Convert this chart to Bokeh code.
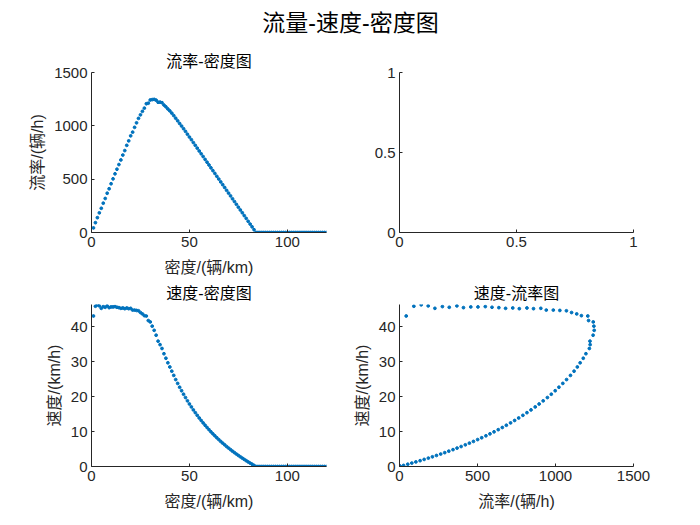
from bokeh.plotting import figure
from bokeh.layouts import gridplot, column
from bokeh.models import Range1d, FixedTicker, Label
from bokeh.embed import file_html
from bokeh.resources import INLINE

# ---------------- data ----------------
density = [
    1, 2, 3, 4, 5, 6, 7, 8, 9, 10, 11, 12, 13, 14, 15, 16, 17, 18, 19, 20,
    21, 22, 23, 24, 25, 26, 27, 28, 29, 30, 31, 32, 33, 34, 35, 36, 37, 38, 39, 40,
    41, 42, 43, 44, 45, 46, 47, 48, 49, 50, 51, 52, 53, 54, 55, 56, 57, 58, 59, 60,
    61, 62, 63, 64, 65, 66, 67, 68, 69, 70, 71, 72, 73, 74, 75, 76, 77, 78, 79, 80,
    81, 82, 83, 84, 85, 86, 87, 88, 89, 90, 91, 92, 93, 94, 95, 96, 97, 98, 99, 100,
    101, 102, 103, 104, 105, 106, 107, 108, 109, 110, 111, 112, 113, 114, 115, 116, 117, 118, 119, 120,
]
speed = [
    43.1, 45.9, 46.3, 46.0, 45.3, 45.8, 45.6, 46.0, 45.5, 45.7,
    45.7, 45.8, 45.6, 45.5, 45.3, 45.4, 45.2, 45.4, 45.2, 45.3,
    44.8, 44.8, 44.7, 44.6, 44.1, 43.7, 43.2, 43.1, 41.8, 41.4,
    40.2, 39.0, 37.6, 35.9, 34.9, 33.8, 32.3, 31.0, 29.7, 28.5,
    27.3, 26.1, 24.9, 23.8, 22.7, 21.7, 20.7, 19.75, 18.8, 17.9,
    17.06, 16.21, 15.42, 14.65, 13.89, 13.18, 12.49, 11.81, 11.17, 10.55,
    9.93, 9.35, 8.79, 8.23, 7.71, 7.18, 6.69, 6.21, 5.72, 5.27,
    4.83, 4.39, 3.97, 3.57, 3.16, 2.78, 2.40, 2.03, 1.67, 1.31,
    0.98, 0.65, 0.31, 0, 0, 0, 0, 0, 0, 0,
    0, 0, 0, 0, 0, 0, 0, 0, 0, 0,
    0, 0, 0, 0, 0, 0, 0, 0, 0, 0,
    0, 0, 0, 0, 0, 0, 0, 0, 0, 0,
]
flow = [
    43, 92, 139, 184, 227, 275, 319, 368, 410, 457,
    503, 550, 593, 637, 680, 726, 768, 817, 859, 906,
    941, 986, 1028, 1070, 1103, 1136, 1166, 1207, 1212, 1242,
    1246, 1248, 1241, 1221, 1222, 1217, 1195, 1178, 1158, 1140,
    1119, 1096, 1071, 1047, 1022, 998, 973, 948, 921, 895,
    870, 843, 817, 791, 764, 738, 712, 685, 659, 633,
    606, 580, 554, 527, 501, 474, 448, 422, 395, 369,
    343, 316, 290, 264, 237, 211, 185, 158, 132, 105,
    79, 53, 26, 0, 0, 0, 0, 0, 0, 0,
    0, 0, 0, 0, 0, 0, 0, 0, 0, 0,
    0, 0, 0, 0, 0, 0, 0, 0, 0, 0,
    0, 0, 0, 0, 0, 0, 0, 0, 0, 0,
]

main_title = "流量-速度-密度图"
titles = ["流率-密度图", "速度-密度图", "速度-流率图"]
xlabels = ["密度/(辆/km)", "密度/(辆/km)", "流率/(辆/h)"]
ylabels = ["流率/(辆/h)", "速度/(km/h)", "速度/(km/h)"]
ticks_density = [0, 50, 100]
ticks_flow = [0, 500, 1000, 1500]
ticks_speed = [0, 10, 20, 30, 40]
ticks_unit = [0, 0.5, 1]

# ---------------- styling ----------------
BLUE = "#0072BD"
AX = "#262626"
LATIN = "Liberation Sans"
MIXED = "Liberation Sans, Noto Sans CJK SC"
TICK_SIZE = "15px"
LABEL_SIZE = "16px"
TITLE_SIZE = "16px"


def make_fig(w, h, xr, yr, left, right, top, bottom, xticks, yticks,
             title=None, xlabel=None, ylabel=None):
    p = figure(width=w, height=h, x_range=Range1d(*xr), y_range=Range1d(*yr),
               output_backend="svg", toolbar_location=None,
               min_border_left=left, min_border_right=right,
               min_border_top=top, min_border_bottom=bottom)
    p.outline_line_color = None
    p.grid.visible = False
    p.background_fill_color = "white"
    p.border_fill_color = "white"
    p.xaxis.ticker = FixedTicker(ticks=xticks)
    p.yaxis.ticker = FixedTicker(ticks=yticks)
    for ax in (p.xaxis[0], p.yaxis[0]):
        ax.axis_line_color = AX
        ax.axis_line_width = 1
        ax.major_tick_line_color = AX
        ax.major_tick_in = 3
        ax.major_tick_out = 0
        ax.minor_tick_line_color = None
        ax.major_label_text_font = LATIN
        ax.major_label_text_font_size = TICK_SIZE
        ax.major_label_text_color = AX
        ax.major_label_standoff = 4
        ax.axis_label_text_font = MIXED
        ax.axis_label_text_font_size = LABEL_SIZE
        ax.axis_label_text_font_style = "normal"
        ax.axis_label_text_color = AX
    p.xaxis[0].axis_label_standoff = 9
    p.yaxis[0].axis_label_standoff = 5
    if xlabel:
        p.xaxis.axis_label = xlabel
    if ylabel:
        p.yaxis.axis_label = ylabel
    if title:
        p.title.text = title
        p.title.align = "center"
        p.title.text_font = MIXED
        p.title.text_font_size = TITLE_SIZE
        p.title.text_font_style = "normal"
        p.title.text_color = "black"
        p.title.standoff = 5
    return p


# title strip
pt = figure(width=700, height=45, x_range=Range1d(0, 1), y_range=Range1d(0, 1),
            output_backend="svg", toolbar_location=None,
            x_axis_type=None, y_axis_type=None,
            min_border_left=0, min_border_right=0, min_border_top=0, min_border_bottom=0)
pt.outline_line_color = None
pt.grid.visible = False
pt.add_layout(Label(x=0.5, y=0.5, text=main_title, text_align="center",
                    text_baseline="middle", text_font=MIXED,
                    text_font_size="23px", text_color="black"))

TOP_H, BOT_H = 235, 245

p1 = make_fig(350, TOP_H, (0, 120), (0, 1500), 91, 24, 27, 48,
              ticks_density, ticks_flow, titles[0], xlabels[0], ylabels[0])
p1.scatter(density, flow, size=2.8, color=BLUE)

p2 = make_fig(350, TOP_H, (0, 1), (0, 1), 49, 67, 27, 48,
              ticks_unit, ticks_unit)
for ax in (p2.xaxis[0], p2.yaxis[0]):
    ax.major_label_overrides = {0: "0", 0.5: "0.5", 1: "1"}

p3 = make_fig(350, BOT_H, (0, 120), (0, 46.4), 91, 24, 24, 59,
              ticks_density, ticks_speed, titles[1], xlabels[1], ylabels[1])
p3.scatter(density, speed, size=2.8, color=BLUE)

p4 = make_fig(350, BOT_H, (0, 1500), (0, 46.4), 49, 67, 24, 59,
              ticks_flow, ticks_speed, titles[2], xlabels[2], ylabels[2])
p4.scatter(flow, speed, size=2.8, color=BLUE)

grid = gridplot([[p1, p2], [p3, p4]], toolbar_location=None)
layout = column(pt, grid)

open("out.html", "w").write(file_html(layout, INLINE))
